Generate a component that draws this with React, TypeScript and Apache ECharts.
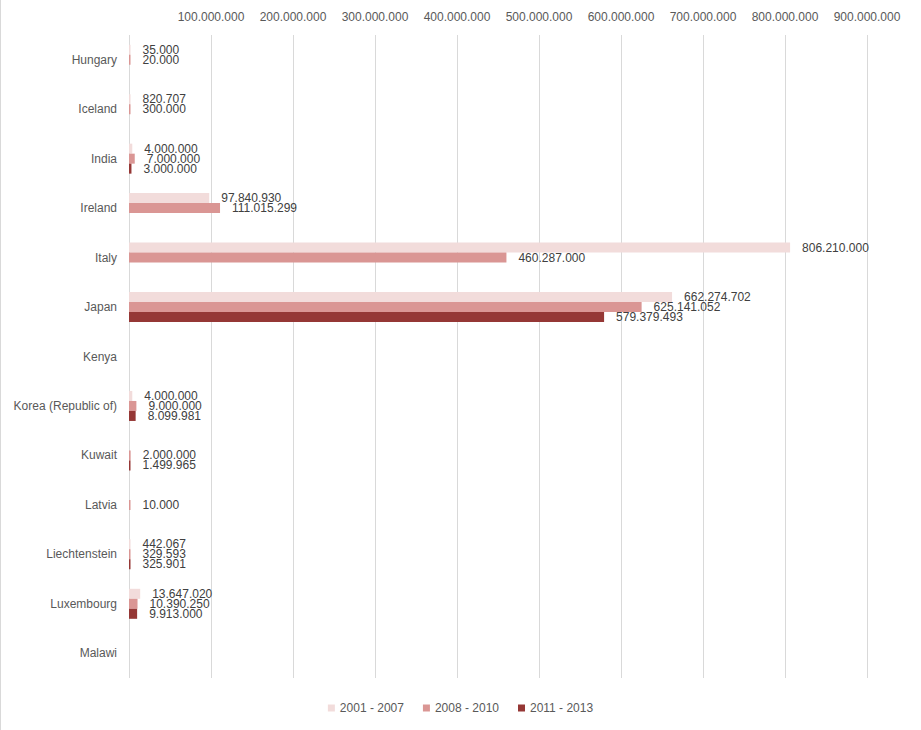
import React, { useEffect, useRef } from "react";
import * as echarts from "echarts";

const categories = [
  "Hungary",
  "Iceland",
  "India",
  "Ireland",
  "Italy",
  "Japan",
  "Kenya",
  "Korea (Republic of)",
  "Kuwait",
  "Latvia",
  "Liechtenstein",
  "Luxembourg",
  "Malawi",
];

const seriesNames = ["2001 - 2007", "2008 - 2010", "2011 - 2013"];

const values2001_2007 = [35000, 820707, 4000000, 97840930, 806210000, 662274702, null, 4000000, null, null, 442067, 13647020, null];
const values2008_2010 = [20000, 300000, 7000000, 111015299, 460287000, 625141052, null, 9000000, 2000000, 10000, 329593, 10390250, null];
const values2011_2013 = [null, null, 3000000, null, null, 579379493, null, 8099981, 1499965, null, 325901, 9913000, null];

const colors = ["#F2DCDB", "#DA9694", "#953735"];

const fmt = (v: number) => {
  const s = Math.round(v).toString();
  return s.replace(/\B(?=(\d{3})+(?!\d))/g, ".");
};

const FONT = "'Liberation Sans', Arial, sans-serif";

export default function App() {
  const ref = useRef<HTMLDivElement>(null);
  useEffect(() => {
    if (!ref.current) return;
    const chart = echarts.init(ref.current, undefined, { renderer: "svg" });
    const data = [values2001_2007, values2008_2010, values2011_2013];
    chart.setOption({
      animation: false,
      textStyle: { fontFamily: FONT },
      grid: { left: 129, right: 54, top: 35, bottom: 52, containLabel: false },
      legend: {
        bottom: 11,
        left: "center",
        itemWidth: 7,
        itemHeight: 7,
        itemGap: 19,
        icon: "rect",
        textStyle: { color: "#595959", fontSize: 12, fontFamily: FONT },
        data: seriesNames,
      },
      xAxis: {
        type: "value",
        position: "top",
        min: 0,
        max: 900000000,
        interval: 100000000,
        axisLine: { show: false },
        axisTick: { show: false },
        axisLabel: {
          color: "#595959",
          fontSize: 12,
          fontFamily: FONT,
          margin: 12,
          formatter: (v: number) => (v === 0 ? "" : fmt(v)),
        },
        splitLine: { show: true, lineStyle: { color: "#D9D9D9", width: 1 } },
      },
      yAxis: {
        type: "category",
        inverse: true,
        data: categories,
        axisLine: { show: false },
        axisTick: { show: false },
        axisLabel: { color: "#595959", fontSize: 12, fontFamily: FONT, margin: 12 },
      },
      graphic: [
        {
          type: "line",
          shape: { x1: 0.5, y1: 0, x2: 0.5, y2: 730 },
          style: { stroke: "#D9D9D9", lineWidth: 1 },
        },
      ],
      series: seriesNames.map((name, i) => ({
        name,
        type: "bar",
        data: data[i],
        barWidth: 10,
        barGap: "0%",
        barMinHeight: 1.5,
        itemStyle: { color: colors[i] },
        label: {
          show: true,
          position: "right",
          distance: 12,
          color: "#404040",
          fontSize: 12,
          fontFamily: FONT,
          formatter: (p: any) => (p.value == null ? "" : fmt(p.value)),
        },
      })),
    });
    return () => chart.dispose();
  }, []);
  return (
    <div
      ref={ref}
      style={{ position: "absolute", left: 0, top: 0, width: 921, height: 730, background: "#fff" }}
    />
  );
}
